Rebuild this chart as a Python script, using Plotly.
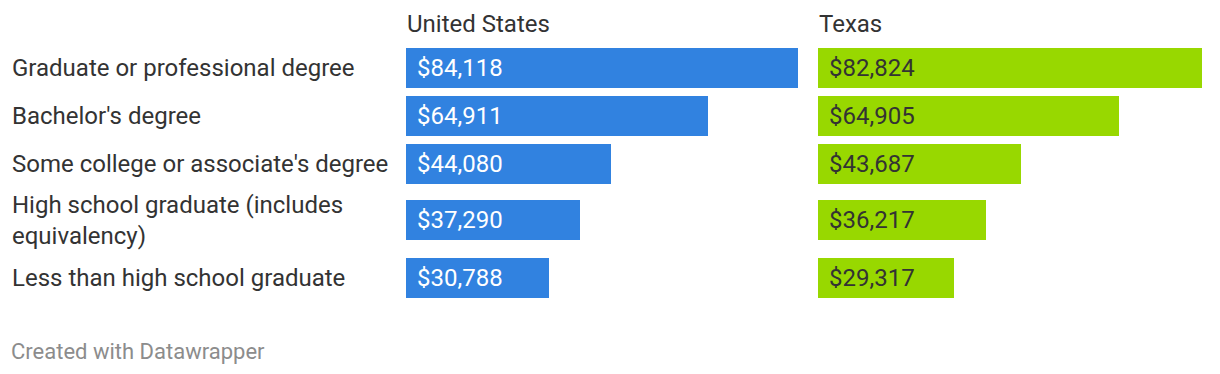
import plotly.graph_objects as go

# ---- data ----
categories = [
    "Graduate or professional degree",
    "Bachelor's degree",
    "Some college or associate's degree",
    "High school graduate (includes<br>equivalency)",
    "Less than high school graduate",
]
us_values = [84118, 64911, 44080, 37290, 30788]
tx_values = [82824, 64905, 43687, 36217, 29317]
series_names = ["United States", "Texas"]
footer_text = "Created with Datawrapper"

# ---- layout / style ----
OFF = 8  # page body margin
W, H = 1220 - OFF, 374 - OFF
FONT = "Roboto"
TEXT = "#333333"
BLUE = "#3182e0"
GREEN = "#98d800"
row_px = [(48, 88), (96, 136), (144, 184), (200, 240), (258, 298)]
col_px = [(406, 798), (818, 1202)]
series_values = [us_values, tx_values]
colors = [BLUE, GREEN]
value_colors = ["#ffffff", TEXT]


def px_x(p):
    return (p - OFF) / W


def px_y(p):
    return 1 - (p - OFF) / H


fig = go.Figure()
layout = dict(
    width=W, height=H, autosize=False,
    margin=dict(l=0, r=0, t=0, b=0),
    paper_bgcolor="white", plot_bgcolor="white",
    showlegend=False, bargap=0,
)
annotations = []

for c, (x0, x1) in enumerate(col_px):
    xname = "xaxis" if c == 0 else f"xaxis{c+1}"
    layout[xname] = dict(domain=[px_x(x0), px_x(x1)], range=[0, max(series_values[c])],
                         visible=False, fixedrange=True, anchor="y")
    annotations.append(dict(
        text=series_names[c], xref="paper", yref="paper",
        x=px_x(x0), y=px_y(24), xanchor="left", yanchor="middle",
        showarrow=False, font=dict(family=FONT, size=24, color=TEXT), xshift=-1,
    ))

for i, (top, bot) in enumerate(row_px):
    yname = "yaxis" if i == 0 else f"yaxis{i+1}"
    yref = "y" if i == 0 else f"y{i+1}"
    cat = f"c{i}"
    layout[yname] = dict(domain=[px_y(bot), px_y(top)], type="category",
                         range=[-0.5, 0.5], visible=False, fixedrange=True, anchor="x")
    annotations.append(dict(
        text=categories[i], xref="paper", yref=yref, x=px_x(10), y=cat,
        xanchor="left", yanchor="middle", align="left", showarrow=False,
        font=dict(family=FONT, size=24, color=TEXT),
    ))
    for c in range(2):
        xref = "x" if c == 0 else f"x{c+1}"
        v = series_values[c][i]
        fig.add_trace(go.Bar(
            x=[v], y=[cat], orientation="h", width=1,
            xaxis=xref, yaxis=yref,
            marker=dict(color=colors[c], line=dict(width=0)),
            hoverinfo="skip",
        ))
        annotations.append(dict(
            text=f"${v:,}", xref=xref, yref=yref, x=0, y=cat,
            xanchor="left", yanchor="middle", xshift=9, showarrow=False,
            font=dict(family=FONT, size=24, color=value_colors[c]),
        ))

annotations.append(dict(
    text=footer_text, xref="paper", yref="paper", x=px_x(9), y=px_y(351),
    xanchor="left", yanchor="middle", showarrow=False,
    font=dict(family=FONT, size=22, color="#8c8c8c"),
))
layout["annotations"] = annotations
fig.update_layout(**layout)
fig.write_html("out.html")
